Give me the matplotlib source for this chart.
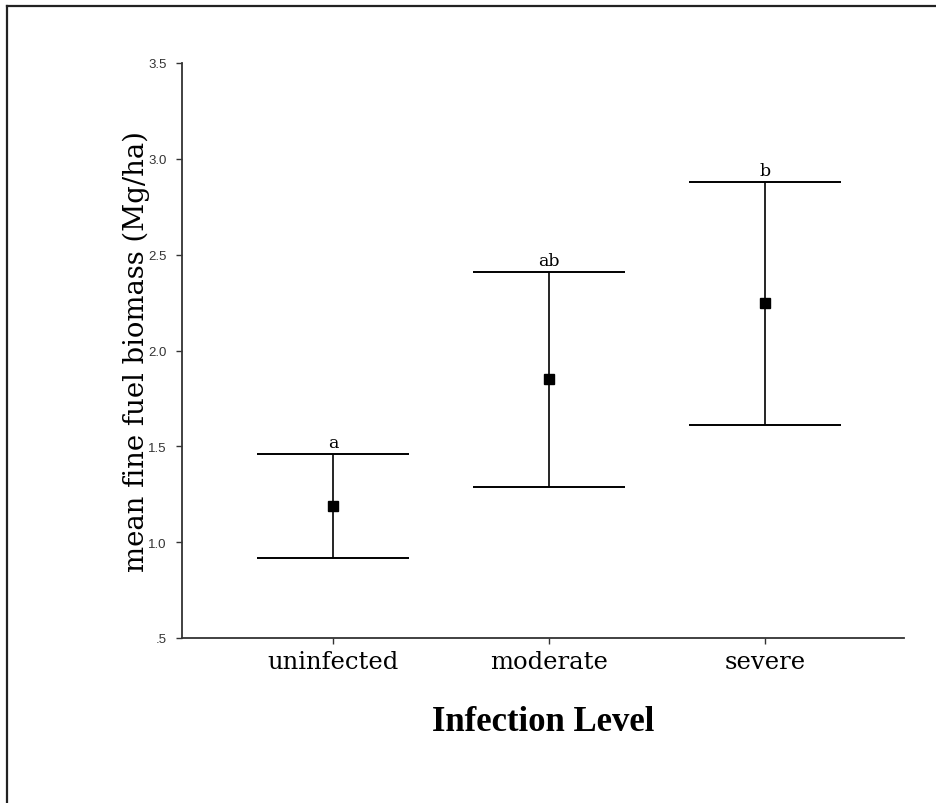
import matplotlib
matplotlib.use("Agg")
import matplotlib.pyplot as plt
from matplotlib.lines import Line2D

levels = ["uninfected", "moderate", "severe"]
means = [1.19, 1.85, 2.25]
upper = [1.46, 2.41, 2.88]
lower = [0.92, 1.29, 1.61]
groups = ["a", "ab", "b"]
yticks = [0.5, 1.0, 1.5, 2.0, 2.5, 3.0, 3.5]
ytick_labels = [".5", "1.0", "1.5", "2.0", "2.5", "3.0", "3.5"]

serif = ["DejaVu Serif"]

fig = plt.figure(figsize=(9.36, 8.04), dpi=100)
ax = fig.add_axes([182 / 936, 1 - 639 / 804, (904 - 182) / 936, (639 - 64) / 804])

xs = [1, 2, 3]
err_lo = [m - l for m, l in zip(means, lower)]
err_hi = [u - m for m, u in zip(means, upper)]
ax.errorbar(xs, means, yerr=[err_lo, err_hi], fmt="s", color="black",
            ecolor="black", elinewidth=1.2, capsize=55, capthick=1.4,
            markersize=7)

for x, u, g in zip(xs, upper, groups):
    ax.annotate(g, (x, u), xytext=(0, 2), textcoords="offset points",
                ha="center", va="bottom", fontsize=12.5, family=serif)

ax.set_xlim(0.301, 3.644)
ax.set_ylim(0.5, 3.5)
ax.set_yticks(yticks)
ax.set_yticklabels(ytick_labels, fontsize=9.5, family="Liberation Sans", color="#333333")
ax.set_xticks(xs)
ax.set_xticklabels(levels, fontsize=17.5, family=serif)
ax.tick_params(axis="both", direction="out", length=4, width=1, color="#333333")
ax.tick_params(axis="x", pad=5)
ax.tick_params(axis="y", pad=7)

for side in ["top", "right"]:
    ax.spines[side].set_visible(False)
for side in ["left", "bottom"]:
    ax.spines[side].set_linewidth(1.3)
    ax.spines[side].set_color("#333333")

ax.set_ylabel("mean fine fuel biomass (Mg/ha)", fontsize=19.8, family=serif, labelpad=-1)
ax.set_xlabel("Infection Level", fontsize=25, family=["Liberation Serif"], fontweight="bold", labelpad=23)

# frame lines along top and left of the picture
fig.add_artist(Line2D([7 / 936, 1], [1 - 7 / 804, 1 - 7 / 804], transform=fig.transFigure,
                      color="#222222", linewidth=1.6))
fig.add_artist(Line2D([7 / 936, 7 / 936], [0, 1 - 7 / 804], transform=fig.transFigure,
                      color="#222222", linewidth=1.6))

fig.savefig("out.png", dpi=100)
